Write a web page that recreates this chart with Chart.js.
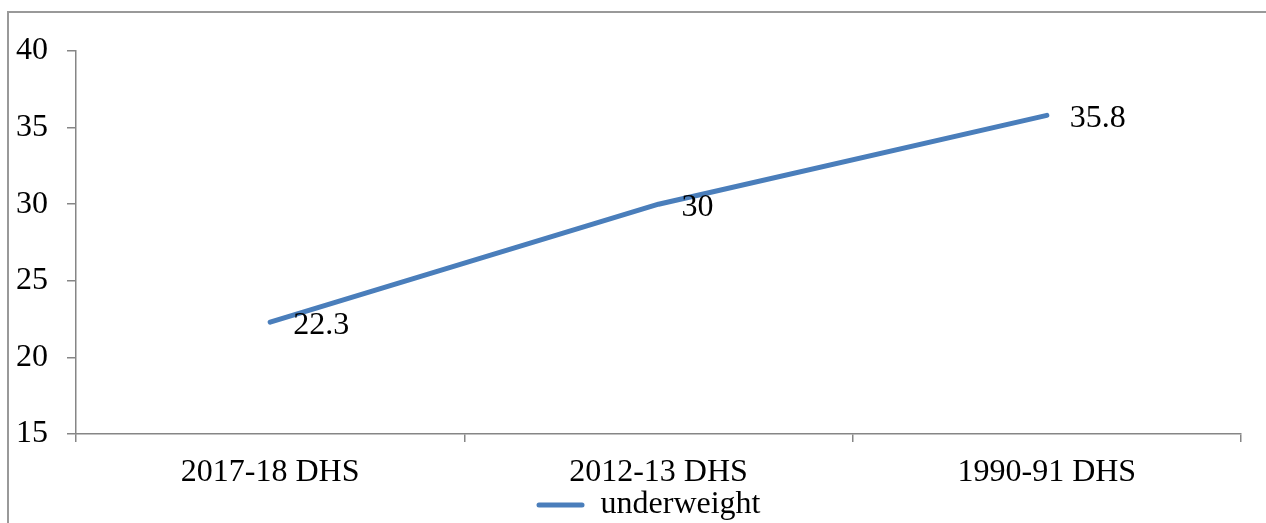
<!DOCTYPE html>
<html>
<head>
<meta charset="utf-8">
<script src="https://cdn.jsdelivr.net/npm/chart.js@4/dist/chart.umd.min.js"></script>
<style>
  html, body { margin: 0; padding: 0; background: #fff; }
  body { width: 1266px; height: 523px; overflow: hidden; position: relative; }
  #frame {
    position: absolute; left: 7px; top: 11px; right: -10px; bottom: -10px;
    border-left: 2px solid #999; border-top: 2px solid #999;
    pointer-events: none;
  }
  #wrap { position: absolute; left: 0; top: 0; width: 1266px; height: 531px; }
</style>
</head>
<body>
<div id="wrap"><canvas id="c"></canvas></div>
<div id="frame"></div>
<script>
// Survey rounds and the share of underweight children (%)
const surveys = ['2017-18 DHS', '2012-13 DHS', '1990-91 DHS'];
const underweight = [22.3, 30, 35.8];
const seriesName = 'underweight';
const yTicks = [15, 20, 25, 30, 35, 40];

const LINE = '#4A7EBB';
const AXIS = '#868686';
const FONT = 'Liberation Serif, Times New Roman, serif';

// Value labels placed just to the right of each point
const valueLabels = {
  id: 'valueLabels',
  afterDatasetsDraw(chart) {
    const ctx = chart.ctx;
    const meta = chart.getDatasetMeta(0);
    const data = chart.data.datasets[0].data;
    ctx.save();
    ctx.font = '32px ' + FONT;
    ctx.fillStyle = '#000';
    ctx.textAlign = 'left';
    ctx.textBaseline = 'middle';
    meta.data.forEach((pt, i) => {
      ctx.fillText(String(data[i]), pt.x + 23, pt.y + 3);
    });
    ctx.restore();
  }
};

// Nudge the legend row a little to the right of the plot centre
const legendShift = {
  id: 'legendShift',
  afterLayout(chart) {
    if (chart.legend) {
      chart.legend.left += 28;
      chart.legend.right += 28;
    }
  }
};

new Chart(document.getElementById('c'), {
  type: 'line',
  data: {
    labels: surveys,
    datasets: [{
      label: seriesName,
      data: underweight,
      borderColor: LINE,
      backgroundColor: LINE,
      borderWidth: 5,
      borderCapStyle: 'round',
      borderJoinStyle: 'round',
      tension: 0,
      pointRadius: 0,
      pointHoverRadius: 0,
      fill: false
    }]
  },
  options: {
    responsive: true,
    maintainAspectRatio: false,
    animation: false,
    events: [],
    layout: { padding: { top: 51, right: 25, left: 0, bottom: 0 } },
    plugins: {
      tooltip: { enabled: false },
      legend: {
        position: 'bottom',
        labels: {
          color: '#000',
          font: { family: FONT, size: 32 },
          boxWidth: 48,
          boxHeight: 5,
          padding: 4,
          useBorderRadius: true,
          borderRadius: 2.5,
          generateLabels(chart) {
            const ds = chart.data.datasets[0];
            return [{
              text: ds.label,
              fillStyle: ds.borderColor,
              strokeStyle: ds.borderColor,
              lineWidth: 0,
              borderRadius: 2.5,
              datasetIndex: 0,
              fontColor: '#000'
            }];
          }
        }
      }
    },
    scales: {
      x: {
        offset: true,
        grid: {
          offset: true,
          drawOnChartArea: false,
          drawTicks: true,
          tickLength: 8,
          color: AXIS,
          lineWidth: 1.5
        },
        border: { display: true, color: AXIS, width: 1.5 },
        ticks: {
          color: '#000',
          font: { family: FONT, size: 32 },
          padding: 11,
          maxRotation: 0,
          autoSkip: false
        },
        afterFit(scale) { scale.height = 51; }
      },
      y: {
        min: 15,
        max: 40,
        afterBuildTicks(scale) { scale.ticks = yTicks.map(v => ({ value: v })); },
        grid: {
          drawOnChartArea: false,
          drawTicks: true,
          tickLength: 9,
          color: AXIS,
          lineWidth: 1.5
        },
        border: { display: true, color: AXIS, width: 1.5 },
        ticks: {
          color: '#000',
          font: { family: FONT, size: 32 },
          padding: 19
        },
        afterFit(scale) { scale.width = 76; }
      }
    }
  },
  plugins: [valueLabels, legendShift]
});
</script>
</body>
</html>
